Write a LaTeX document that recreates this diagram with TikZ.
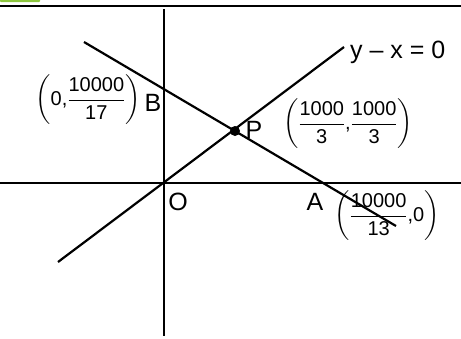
\documentclass[tikz,border=0pt]{standalone}
\usepackage{fontspec}
\setmainfont{Liberation Sans}
\usepackage{amsmath}
\usepackage{xcolor}
\usetikzlibrary{positioning}
\definecolor{tabgreen}{HTML}{8DC63F}

\begin{document}
\begin{tikzpicture}[x=1pt,y=-1pt,line width=2.2pt,
  lbl/.style={inner sep=0pt,anchor=base,font=\fontsize{25}{30}\selectfont},
  crd/.style={inner sep=0pt,font=\fontsize{20}{24}\selectfont}]
  \useasboundingbox (0,0) rectangle (461,338);
  \fill[tabgreen,rounded corners=1pt] (0,-2) rectangle (40,2);
  \draw[line width=1.6pt] (0,6) -- (461,6);
  % axes
  \coordinate (O) at (164,183);
  \coordinate (ytop) at (164,9);
  \coordinate (ybot) at (164,336);
  \coordinate (xl) at (0,183);
  \coordinate (xr) at (461,183);
  \draw (ytop) -- (ybot);
  \draw (xl) -- (xr);
  % the two lines
  \coordinate (dlo) at (58,262);
  \coordinate (dhi) at (344,47);
  \coordinate (ablo) at (84,42);
  \coordinate (abhi) at (396,226);
  \coordinate (P) at (235,131);
  \draw (dlo) -- (dhi);
  \draw (ablo) -- (abhi);
  \fill (P) circle (5pt);
  \node[lbl,anchor=base west] (eq) at (349,58) {y -- x = 0};
  % points
  \node[lbl] (Blbl) at (153,111) {B};
  \node[lbl] (Plbl) at (254,138) {P};
  \node[lbl] (Albl) at (315,210) {A};
  \node[lbl] (Olbl) at (178,210) {O};
  \node[crd] (Bcrd) at (88,100) {$\left(\mbox{0,}\dfrac{\mbox{10000}}{\mbox{17}}\right)$};
  \node[crd] (Pcrd) at (348,124) {$\left(\dfrac{\mbox{1000}}{\mbox{3}}\mbox{,}\dfrac{\mbox{1000}}{\mbox{3}}\right)$};
  \node[crd] (Acrd) at (387,216) {$\left(\dfrac{\mbox{10000}}{\mbox{13}}\mbox{,0}\right)$};
\end{tikzpicture}
\end{document}
